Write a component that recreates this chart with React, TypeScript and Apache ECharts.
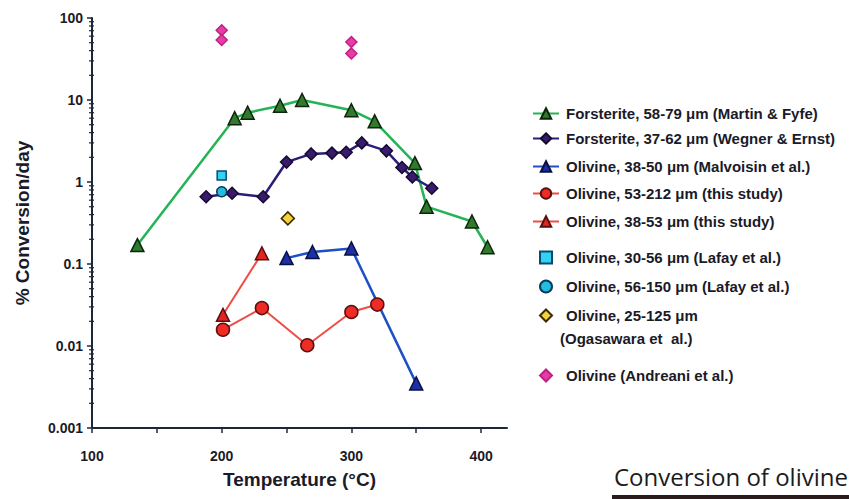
import React, { useEffect, useRef } from "react";
import * as echarts from "echarts";

// ---- data ----
const forsteriteMF: [number, number][] = [
  [135, 0.17], [210, 6], [220, 7], [245, 8.5], [262, 10], [300, 7.5],
  [318, 5.5], [349, 1.7], [358, 0.5], [393, 0.33], [405, 0.16],
];
const forsteriteWE: [number, number][] = [
  [188, 0.66], [208, 0.73], [232, 0.66], [250, 1.75], [269, 2.2], [285, 2.25],
  [296, 2.3], [308, 3.0], [327, 2.4], [339, 1.5], [347, 1.15], [362, 0.84],
];
const olivineMalvoisin: [number, number][] = [
  [250, 0.118], [270, 0.14], [300, 0.155], [350, 0.0035],
];
const olivine53_212: [number, number][] = [
  [201, 0.0158], [231, 0.029], [266, 0.0102], [300, 0.026], [320, 0.032],
];
const olivine38_53: [number, number][] = [
  [201, 0.024], [231, 0.135],
];
const lafay30_56: [number, number][] = [[200, 1.2]];
const lafay56_150: [number, number][] = [[200, 0.76]];
const ogasawara: [number, number][] = [[251, 0.36]];
const andreani: [number, number][] = [[200, 71], [200, 54], [300, 51], [300, 37]];

const yMinorTicks: number[] = [
  0.002, 0.003, 0.004, 0.005, 0.006, 0.007, 0.008, 0.009,
  0.02, 0.03, 0.04, 0.05, 0.06, 0.07, 0.08, 0.09,
  0.2, 0.3, 0.4, 0.5, 0.6, 0.7, 0.8, 0.9,
  2, 3, 4, 5, 6, 7, 8, 9,
  20, 30, 40, 50, 60, 70, 80, 90,
];

const seriesNames = [
  "Forsterite, 58-79 μm (Martin & Fyfe)",
  "Forsterite, 37-62 μm (Wegner & Ernst)",
  "Olivine, 38-50 μm (Malvoisin et al.)",
  "Olivine, 53-212 μm (this study)",
  "Olivine, 38-53 μm (this study)",
  "Olivine, 30-56 μm (Lafay et al.)",
  "Olivine, 56-150 μm (Lafay et al.)",
  "Olivine, 25-125 μm (Ogasawara et  al.)",
  "Olivine (Andreani et al.)",
];
const legendRows = [108, 133, 161, 188, 216, 252, 281, 310, 370];
const legendIsLine = [true, true, true, true, true, false, false, false, false];

const AXIS = "#1c2838";
const TEXT = "#1a1a28";
const FONT = "'Liberation Sans', Arial, sans-serif";

export default function App() {
  const ref = useRef<HTMLDivElement>(null);
  useEffect(() => {
    if (!ref.current) return;
    const chart = echarts.init(ref.current, undefined, { renderer: "svg" });

    const lineSeries = (
      name: string,
      data: [number, number][],
      symbol: string,
      size: number,
      lineColor: string,
      fill: string,
      border: string,
      lw: number
    ) => ({
      name,
      type: "line",
      data,
      symbol,
      symbolSize: size,
      showSymbol: true,
      lineStyle: { color: lineColor, width: lw },
      itemStyle: { color: fill, borderColor: border, borderWidth: 1.5 },
      z: 3,
    });
    const scatterSeries = (
      name: string,
      data: [number, number][],
      symbol: string,
      size: number,
      fill: string,
      border: string
    ) => ({
      name,
      type: "scatter",
      data,
      symbol,
      symbolSize: size,
      itemStyle: { color: fill, borderColor: border, borderWidth: 1.5, opacity: 1 },
      z: 4,
    });

    const legends = seriesNames.map((n, i) => {
      const isLine = legendIsLine[i];
      return {
        data: [n],
        orient: "vertical",
        left: isLine ? 527 : 534,
        top: legendRows[i] - 7,
        itemWidth: isLine ? 26 : 12,
        itemHeight: isLine ? 13 : 12,
        itemGap: 0,
        selectedMode: false,
        formatter: (name: string) =>
          name.startsWith("Olivine, 25-125") ? "Olivine, 25-125 μm" : name,
        textStyle: {
          fontFamily: FONT,
          fontWeight: "bold",
          fontSize: 15,
          color: TEXT,
          padding: isLine ? [0, 0, 0, 2] : [0, 0, 0, 9],
        },
      };
    });

    chart.setOption({
      animation: false,
      backgroundColor: "#ffffff",
      grid: { left: 92, right: 342, top: 18, bottom: 71 },
      legend: legends,
      xAxis: {
        type: "value",
        min: 100,
        max: 420,
        interval: 50,
        name: "Temperature (°C)",
        nameLocation: "middle",
        nameGap: 42,
        nameTextStyle: { fontFamily: FONT, fontWeight: "bold", fontSize: 19, color: TEXT },
        axisLine: { show: true, lineStyle: { color: AXIS, width: 2 } },
        axisTick: { show: true, length: 5, lineStyle: { color: AXIS, width: 1.5 } },
        splitLine: { show: false },
        axisLabel: {
          margin: 21,
          fontFamily: FONT,
          fontWeight: "bold",
          fontSize: 14,
          color: TEXT,
          showMaxLabel: false,
          formatter: (v: number) => (v % 100 === 0 ? String(v) : ""),
        },
      },
      yAxis: {
        type: "log",
        logBase: 10,
        min: 0.001,
        max: 100,
        name: "% Conversion/day",
        nameLocation: "middle",
        nameGap: 60,
        nameTextStyle: { fontFamily: FONT, fontWeight: "bold", fontSize: 19, color: TEXT },
        axisLine: { show: true, lineStyle: { color: AXIS, width: 2 } },
        axisTick: { show: true, length: 5, lineStyle: { color: AXIS, width: 1.5 } },
        splitLine: { show: false },
        axisLabel: {
          margin: 9,
          fontFamily: FONT,
          fontWeight: "bold",
          fontSize: 14,
          color: TEXT,
          formatter: (v: number) => String(Number(v.toPrecision(1))),
        },
      },
      graphic: [
        {
          type: "text",
          x: 560,
          y: 338,
          style: {
            text: "(Ogasawara et  al.)",
            fontFamily: FONT,
            fontWeight: "bold",
            fontSize: 15,
            fill: TEXT,
            verticalAlign: "middle",
          },
        },
        {
          type: "text",
          x: 614,
          y: 476,
          style: {
            text: "Conversion of olivine",
            fontFamily: "'Open Sans', Lato, sans-serif",
            fontSize: 24,
            fill: "#1c1c1c",
            verticalAlign: "middle",
          },
        },
        {
          type: "rect",
          shape: { x: 612, y: 495, width: 240, height: 4 },
          style: { fill: "#2a1c1c" },
        },
      ],
      series: [
        {
          type: "custom",
          silent: true,
          data: yMinorTicks.map((v) => [100, v]),
          encode: { x: 0, y: 1 },
          renderItem: (_p: any, api: any) => {
            const pt = api.coord([100, api.value(1)]);
            return {
              type: "line",
              shape: { x1: pt[0] - 3, y1: pt[1], x2: pt[0] + 2, y2: pt[1] },
              style: { stroke: AXIS, lineWidth: 1.2 },
            };
          },
          z: 2,
        },
        lineSeries(seriesNames[0], forsteriteMF, "triangle", 13, "#22b455", "#2f7a2c", "#0d240d", 2.5),
        lineSeries(seriesNames[1], forsteriteWE, "diamond", 12, "#2c1d7a", "#3a1a6a", "#140a30", 2.5),
        lineSeries(seriesNames[2], olivineMalvoisin, "triangle", 13, "#1e4fc6", "#1a2fa8", "#0a1040", 2.5),
        lineSeries(seriesNames[3], olivine53_212, "circle", 13, "#f04c46", "#ee2b24", "#5a1010", 2),
        lineSeries(seriesNames[4], olivine38_53, "triangle", 13, "#f04c46", "#e0261e", "#5a1010", 2),
        scatterSeries(seriesNames[5], lafay30_56, "rect", 9, "#33d2f2", "#0a4a70"),
        scatterSeries(seriesNames[6], lafay56_150, "circle", 10, "#22bde0", "#0a3a5a"),
        scatterSeries(seriesNames[7], ogasawara, "diamond", 13, "#f5d23a", "#3a2a00"),
        scatterSeries(seriesNames[8], andreani, "diamond", 11, "#e63ca8", "#c02080"),
      ],
    });
    return () => chart.dispose();
  }, []);
  return (
    <div
      ref={ref}
      style={{ position: "fixed", left: 0, top: 0, width: 849, height: 499, background: "#fff" }}
    />
  );
}
